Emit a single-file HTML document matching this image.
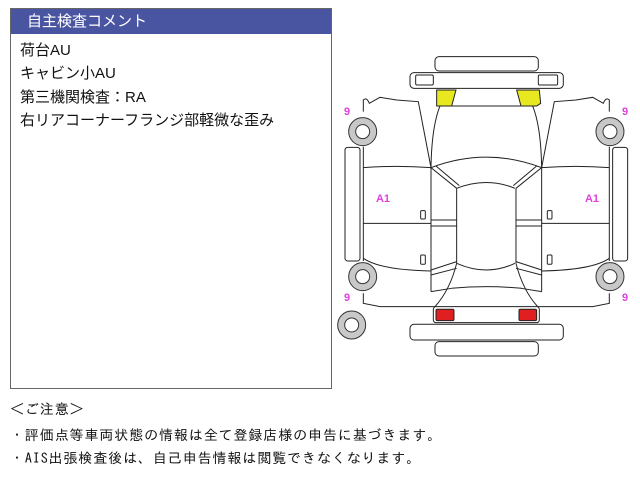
<!DOCTYPE html>
<html><head><meta charset="utf-8"><style>
body{margin:0;width:640px;height:480px;background:#fff;position:relative;overflow:hidden;font-family:"Liberation Sans","Noto Sans CJK JP",sans-serif}
#box{position:absolute;left:10px;top:8px;width:320px;height:379px;border:1px solid #666;}
#hd{height:25px;background:#4a55a2;color:#fff;font-size:15px;line-height:25px;padding-left:16px;}
.l{position:absolute;left:9px;font-size:15px;color:#111;}
.n{position:absolute;left:10px;font-size:14px;letter-spacing:0.9px;font-family:"IPAGothic","Noto Sans CJK JP",sans-serif;color:#111;white-space:nowrap}
</style></head><body>
<div id="box"><div id="hd">自主検査コメント</div>
<div class="l" style="top:30px">荷台AU</div>
<div class="l" style="top:53px">キャビン小AU</div>
<div class="l" style="top:77px">第三機関検査：RA</div>
<div class="l" style="top:100px">右リアコーナーフランジ部軽微な歪み</div>
</div>
<div class="n" style="top:402px">＜ご注意＞</div>
<div class="n" style="top:428px">・評価点等車両状態の情報は全て登録店様の申告に基づきます。</div>
<div class="n" style="top:451px">・AIS出張検査後は、自己申告情報は閲覧できなくなります。</div>
<svg width="640" height="480" style="position:absolute;left:0;top:0">
<g transform="translate(330,40) scale(0.3333)" fill="none" stroke="#222" stroke-width="3">
<rect x="315" y="50" width="310" height="43" rx="12" fill="#fff"/>
<rect x="240" y="98" width="460" height="47" rx="12" fill="#fff"/>
<rect x="257" y="105" width="53" height="30" rx="4"/>
<rect x="625" y="105" width="58" height="30" rx="4"/>
<path d="M320,150 L378,150 L365,198 L320,198 Z" fill="#e8e820"/>
<path d="M560,150 L628,150 L632,190 L620,198 L573,198 Z" fill="#e8e820"/>
<path d="M365,198 L573,198"/>
<g id="half">
<path d="M100,215 L100,180 Q110,170 118,190 L150,172 L200,180 L265,185 L303,383"/>
<path d="M100,320 L100,663"/>
<path d="M100,760 L100,790 L150,800 L315,800"/>
<path d="M100,383 Q200,375 303,383"/>
<path d="M100,550 L303,550"/>
<path d="M100,655 Q150,690 303,693"/>
<rect x="272" y="512" width="14" height="25" rx="3"/>
<rect x="272" y="645" width="14" height="28" rx="3"/>
<path d="M330,198 Q305,260 303,383"/>
<path d="M303,383 L303,755"/>
<path d="M303,383 L380,445"/>
<path d="M318,378 L388,437"/>
<path d="M380,445 L380,670"/>
<path d="M303,540 L380,540 M303,558 L380,558"/>
<path d="M303,690 L380,665 M303,705 L380,685"/>
<path d="M303,755 L365,745"/>
<path d="M380,670 Q360,750 315,800"/>
<rect x="45" y="322" width="45" height="341" rx="8"/>
</g>
<use href="#half" transform="translate(938,0) scale(-1,1)"/>
<path d="M303,383 Q470,320 635,383"/>
<path d="M380,445 Q470,410 555,445"/>
<path d="M380,670 Q470,710 555,670"/>
<path d="M365,745 Q470,735 575,745"/>
<rect x="310" y="800" width="318" height="48" rx="8" fill="#fff"/>
<rect x="318" y="808" width="54" height="34" rx="4" fill="#e02020"/>
<rect x="567" y="808" width="53" height="34" rx="4" fill="#e02020"/>
<rect x="240" y="853" width="460" height="47" rx="12" fill="#fff"/>
<rect x="315" y="905" width="310" height="43" rx="12" fill="#fff"/>
<g fill="#c8c8c8" stroke="#333" stroke-width="3">
<circle cx="98" cy="275" r="42"/><circle cx="840" cy="275" r="42"/>
<circle cx="98" cy="710" r="42"/><circle cx="840" cy="710" r="42"/>
<circle cx="65" cy="855" r="42"/>
</g>
<g fill="#fff" stroke="#333" stroke-width="3">
<circle cx="98" cy="275" r="21"/><circle cx="840" cy="275" r="21"/>
<circle cx="98" cy="710" r="21"/><circle cx="840" cy="710" r="21"/>
<circle cx="65" cy="855" r="21"/>
</g>
</g>
<g fill="#e040e0" font-size="11" font-weight="bold" font-family="Liberation Sans,sans-serif" text-anchor="middle">
<text x="347" y="115">9</text><text x="625" y="115">9</text>
<text x="347" y="301">9</text><text x="625" y="301">9</text>
<text x="383" y="202">A1</text><text x="592" y="202">A1</text>
</g>
</svg>
</body></html>
